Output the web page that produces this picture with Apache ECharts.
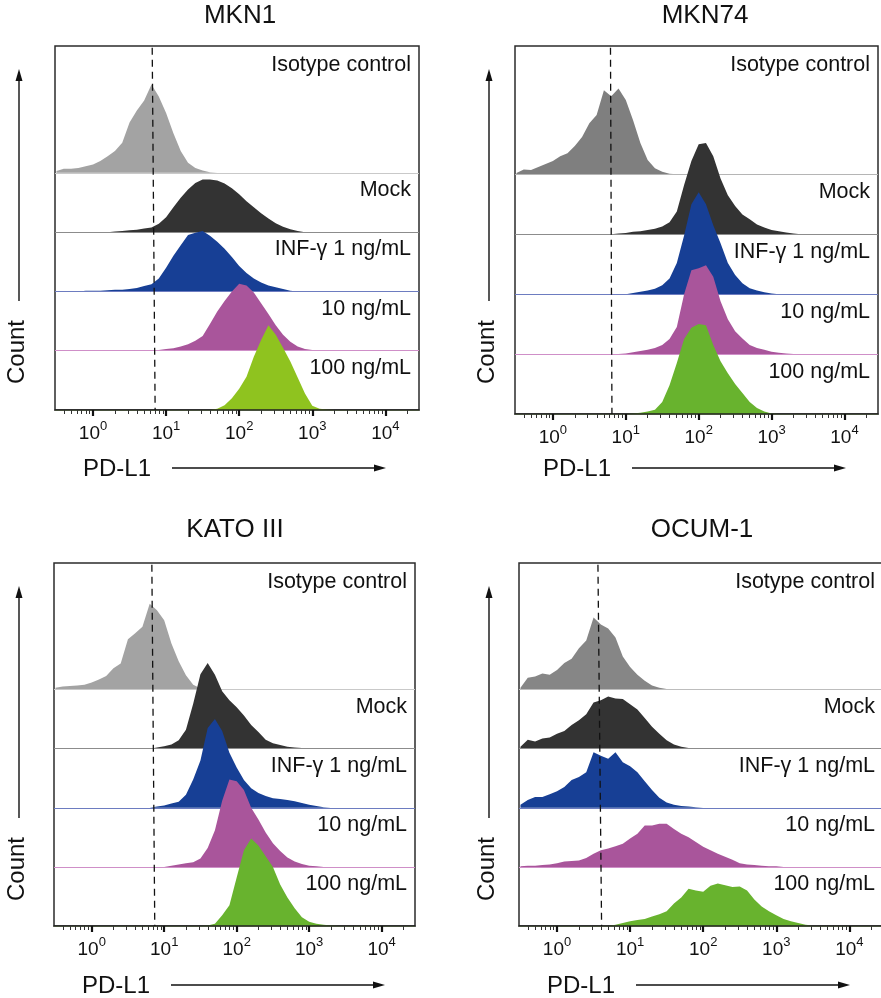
<!DOCTYPE html>
<html>
<head>
<meta charset="utf-8">
<script src="https://cdn.jsdelivr.net/npm/echarts@6/dist/echarts.min.js"></script>
<style>
  html, body { margin: 0; padding: 0; background: #fff; }
  #main { width: 881px; height: 998px; }
</style>
</head>
<body>
<div id="main"></div>
<script>
// PD-L1 flow cytometry histograms, x in log10 units (decades)
const panelNames = ['MKN1', 'MKN74', 'KATO III', 'OCUM-1'];
const rowLabels = ['Isotype control', 'Mock', 'INF-γ 1 ng/mL', '10 ng/mL', '100 ng/mL'];
const decadeTicks = [0, 1, 2, 3, 4];

// bin centres (log10 of intensity)
const bins = [-0.5, -0.4, -0.3, -0.2, -0.1, 0, 0.1, 0.2, 0.3, 0.4,
  0.5, 0.6, 0.7, 0.8, 0.9, 1, 1.1, 1.2, 1.3, 1.4,
  1.5, 1.6, 1.7, 1.8, 1.9, 2, 2.1, 2.2, 2.3, 2.4,
  2.5, 2.6, 2.7, 2.8, 2.9, 3, 3.1, 3.2, 3.3, 3.4, 3.5];

// dashed isotype gate (top / bottom x, it leans a little)
const gateTop = [0.81, 0.79, 0.83, 0.56];
const gateBottom = [0.85, 0.81, 0.87, 0.61];

// counts, 100 = one row step
const mkn1Iso = [3,7,7,8,11,14,20,28,37,51, 85,105,122,149,129,101,67,37,17,8, 4,1,0,0,0,0,0,0,0,0, 0,0,0,0,0,0,0,0,0,0, 0];
const mkn1Mock = [0,0,0,0,0,0,0,0,1,2, 3,4,6,8,14,25,42,58,72,83, 89,89,87,82,74,64,52,42,32,23, 15,9,5,2,0,0,0,0,0,0, 0];
const mkn1Ifn1 = [0,0,0,0,1,1,1,2,3,3, 4,6,9,12,22,40,60,78,95,99, 102,94,84,72,58,43,31,22,15,10, 7,4,1,0,0,0,0,0,0,0, 0];
const mkn1Ifn10 = [0,0,0,0,0,0,0,0,0,0, 0,0,0,0,1,3,4,7,11,17, 25,45,66,84,100,113,110,98,80,62, 43,27,15,7,3,1,0,0,0,0, 0];
const mkn1Ifn100 = [0,0,0,0,0,0,0,0,0,0, 0,0,0,0,0,0,0,0,0,0, 0,0,2,8,20,36,56,90,118,143, 127,105,82,55,28,7,2,1,0,0, 0];

const mkn74Iso = [2,8,7,12,17,22,30,35,47,62, 85,99,140,130,143,124,90,52,24,10, 4,1,0,0,0,0,0,0,0,0, 0,0,0,0,0,0,0,0,0,0, 0];
const mkn74Mock = [0,0,0,0,0,0,0,0,0,0, 0,0,0,0,1,2,4,5,7,9, 13,20,38,82,122,150,152,130,93,65, 47,33,25,16,11,7,5,3,1,0, 0];
const mkn74Ifn1 = [0,0,0,0,0,0,0,0,0,0, 0,0,0,0,0,0,2,4,6,9, 15,26,52,98,150,170,150,115,85,52, 32,18,10,6,3,1,0,0,0,0, 0];
const mkn74Ifn10 = [0,0,0,0,0,0,0,0,0,0, 0,0,0,0,0,1,3,5,7,10, 15,25,45,100,140,143,148,129,88,58, 38,26,15,10,7,4,2,1,0,0, 0];
const mkn74Ifn100 = [0,0,0,0,0,0,0,0,0,0, 0,0,0,0,0,0,1,2,4,7, 20,48,85,125,144,150,148,115,88,68, 50,35,20,10,4,1,0,0,0,0, 0];

const katoIso = [3,5,6,7,8,12,17,23,36,44, 85,95,106,145,134,117,78,48,24,8, 2,0,0,0,0,0,0,0,0,0, 0,0,0,0,0,0,0,0,0,0, 0];
const katoMock = [0,0,0,0,0,0,0,0,0,0, 0,0,0,0,2,4,7,14,32,76, 126,145,125,97,82,70,56,40,28,15, 9,6,3,2,1,0,0,0,0,0, 0];
const katoIfn1 = [0,0,0,0,0,0,0,0,0,0, 0,0,0,0,2,4,7,10,22,48, 80,135,150,130,93,68,47,33,25,20, 16,15,13,11,8,5,3,1,0,0, 0];
const katoIfn10 = [0,0,0,0,0,0,0,0,0,0, 0,0,0,0,0,0,2,4,6,8, 14,32,62,112,148,145,130,100,80,58, 40,27,16,9,5,2,1,0,0,0, 0];
const katoIfn100 = [0,0,0,0,0,0,0,0,0,0, 0,0,0,0,0,0,0,0,0,0, 0,1,4,18,35,82,128,148,136,118, 100,70,48,30,15,7,4,2,1,0, 0];

const ocumIso = [3,20,22,27,25,33,45,52,70,83, 122,110,103,88,56,38,25,15,7,3, 1,0,0,0,0,0,0,0,0,0, 0,0,0,0,0,0,0,0,0,0, 0];
const ocumMock = [3,15,12,17,19,25,30,40,48,58, 78,82,88,85,84,75,66,52,37,25, 14,7,3,1,0,0,0,0,0,0, 0,0,0,0,0,0,0,0,0,0, 0];
const ocumIfn1 = [5,13,18,18,23,28,35,47,52,60, 94,88,83,94,77,70,60,45,30,17, 9,5,3,2,1,0,0,0,0,0, 0,0,0,0,0,0,0,0,0,0, 0];
const ocumIfn10 = [1,2,2,3,4,6,9,10,11,15, 22,28,31,35,39,48,56,70,70,73, 73,64,56,50,42,34,28,22,17,12, 6,4,3,2,1,1,0,0,0,0, 0];
const ocumIfn100 = [0,0,0,0,0,0,0,0,0,0, 0,0,0,2,5,8,10,12,16,20, 25,38,48,63,60,58,68,72,69,66, 67,60,45,33,25,18,12,8,5,2, 1];

const panelData = [
  [mkn1Iso, mkn1Mock, mkn1Ifn1, mkn1Ifn10, mkn1Ifn100],
  [mkn74Iso, mkn74Mock, mkn74Ifn1, mkn74Ifn10, mkn74Ifn100],
  [katoIso, katoMock, katoIfn1, katoIfn10, katoIfn100],
  [ocumIso, ocumMock, ocumIfn1, ocumIfn10, ocumIfn100]
];

// colours
const isoFill = ['#a3a3a3', '#7f7f7f', '#a3a3a3', '#868686'];
const isoLine = ['#c9c9c9', '#b5b5b5', '#c9c9c9', '#bdbdbd'];
const greenFill = ['#8fc31f', '#68b32e', '#68b32e', '#68b32e'];
const FONT = '"Liberation Sans", Arial, Helvetica, sans-serif';
const INK = '#111';

// layout
const boxes = [
  {left: 55, top: 46, width: 364, height: 364},
  {left: 515, top: 46, width: 363, height: 368},
  {left: 54, top: 563, width: 361, height: 363},
  {left: 519, top: 563, width: 364, height: 363}
];
const titlePos = [[240, 16], [705, 16], [235, 530], [702, 530]];
const countX = [17, 487, 17, 487];
const X_MIN = -0.52, X_MAX = 4.46, Y_MAX = 614, ROW = 100;

const minorTicks = [];
for (let n = -1; n <= 4; n++) {
  for (let k = 2; k <= 9; k++) {
    const v = n + Math.log10(k);
    if (v > X_MIN && v < X_MAX) minorTicks.push(v);
  }
}

const grids = [], xAxes = [], yAxes = [], series = [], graphics = [];

function txt(x, y, text, size, align, extra) {
  return Object.assign({
    type: 'text', x: x, y: y, silent: true,
    style: {
      text: text, font: size + 'px ' + FONT, fill: INK,
      align: align, verticalAlign: 'middle',
      textAlign: align, textVerticalAlign: 'middle'
    }
  }, extra || {});
}

boxes.forEach(function (b, p) {
  grids.push({
    left: b.left, top: b.top, width: b.width, height: b.height,
    show: true, borderColor: '#2b2b2b', borderWidth: 1.5,
    outerBoundsMode: 'none', containLabel: false
  });
  // decades, with labels
  xAxes.push({
    gridIndex: p, type: 'value', min: X_MIN, max: X_MAX, position: 'bottom', z: 15,
    axisLine: {show: true, lineStyle: {color: '#222', width: 1.5}},
    axisTick: {show: true, customValues: decadeTicks, length: 6, lineStyle: {color: INK, width: 2.2}},
    axisLabel: {
      customValues: decadeTicks, margin: 12, color: INK,
      formatter: function (v) { return '{b|10}{s|' + v + '}'; },
      rich: {
        b: {fontSize: 19, fontFamily: FONT, color: INK, lineHeight: 23},
        s: {fontSize: 13, fontFamily: FONT, color: INK, lineHeight: 13, padding: [0, 0, 15, 0]}
      }
    },
    splitLine: {show: false}
  });
  // minor ticks 2..9
  xAxes.push({
    gridIndex: p, type: 'value', min: X_MIN, max: X_MAX, position: 'bottom', z: 15,
    axisLine: {show: false},
    axisTick: {show: true, customValues: minorTicks, length: 4, lineStyle: {color: '#333', width: 1}},
    axisLabel: {show: false},
    splitLine: {show: false}
  });
  yAxes.push({gridIndex: p, type: 'value', min: 0, max: Y_MAX, show: false});

  const fills = [isoFill[p], '#333333', '#173f95', '#a9559b', greenFill[p]];
  const lines = [isoLine[p], '#8c8c8c', '#6d7cc0', '#cf8fc8', '#b5d98c'];

  panelData[p].forEach(function (counts, r) {
    const off = (4 - r) * ROW;
    series.push({
      name: panelNames[p] + ' ' + rowLabels[r],
      type: 'line', xAxisIndex: 2 * p, yAxisIndex: p,
      data: bins.map(function (x, i) { return [x, off + counts[i]]; }),
      showSymbol: false, symbol: 'none', smooth: false, silent: true,
      lineStyle: {width: 0},
      areaStyle: {color: fills[r], opacity: 1, origin: off},
      z: 2 + r,
      markLine: {
        silent: true, symbol: ['none', 'none'], z: 2.5 + r,
        label: {show: false},
        lineStyle: {color: lines[r], width: 1.2, type: 'solid'},
        data: [{yAxis: off}]
      }
    });

    // row label
    const basePx = b.top + b.height - off * b.height / Y_MAX;
    const ly = r === 0 ? b.top + 19 : basePx - 42;
    graphics.push(txt(b.left + b.width - 8, ly, rowLabels[r], 21.5, 'right'));
  });

  // dashed gate line
  series.push({
    type: 'line', xAxisIndex: 2 * p, yAxisIndex: p,
    data: [[gateTop[p], Y_MAX - 3], [gateBottom[p], 0]],
    showSymbol: false, symbol: 'none', silent: true, z: 20,
    lineStyle: {color: INK, width: 1.3, type: [7, 5]}
  });

  // title
  graphics.push(txt(titlePos[p][0], titlePos[p][1], panelNames[p], 26, 'center'));
  // Count + arrow up
  graphics.push(txt(countX[p], b.top + 306, 'Count', 24, 'center', {rotation: Math.PI / 2}));
  const ax = countX[p] + 2;
  graphics.push({type: 'line', silent: true, shape: {x1: ax, y1: b.top + 255, x2: ax, y2: b.top + 34},
    style: {stroke: INK, lineWidth: 1.4}});
  graphics.push({type: 'polygon', silent: true,
    shape: {points: [[ax, b.top + 23], [ax - 3.5, b.top + 35], [ax + 3.5, b.top + 35]]},
    style: {fill: INK}});
  // PD-L1 + arrow right
  graphics.push(txt(b.left + 62, b.top + 423, 'PD-L1', 24, 'center'));
  const hy = b.top + 422;
  graphics.push({type: 'line', silent: true, shape: {x1: b.left + 117, y1: hy, x2: b.left + 320, y2: hy},
    style: {stroke: INK, lineWidth: 1.4}});
  graphics.push({type: 'polygon', silent: true,
    shape: {points: [[b.left + 331, hy], [b.left + 319, hy - 3.5], [b.left + 319, hy + 3.5]]},
    style: {fill: INK}});
});

const chart = echarts.init(document.getElementById('main'), null, {renderer: 'canvas'});
chart.setOption({
  backgroundColor: '#fff',
  animation: false,
  grid: grids,
  xAxis: xAxes,
  yAxis: yAxes,
  series: series,
  graphic: {elements: graphics}
});
</script>
</body>
</html>
